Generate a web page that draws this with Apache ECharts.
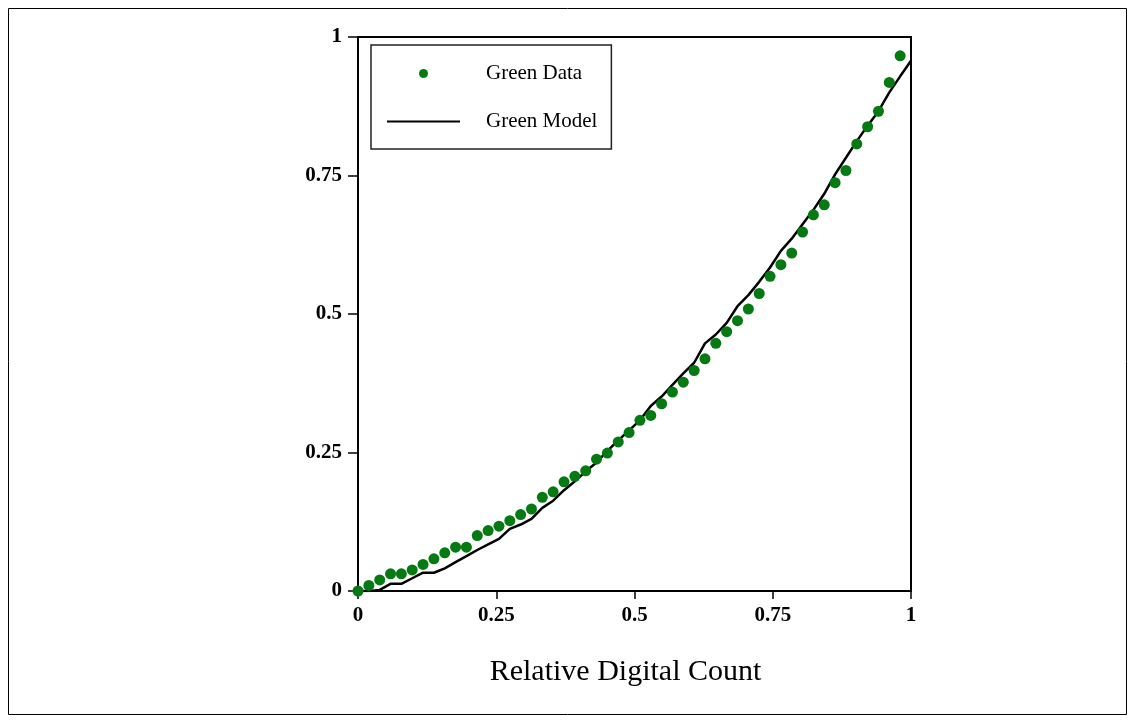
<!DOCTYPE html>
<html>
<head>
<meta charset="utf-8">
<title>Green channel</title>
<script src="https://cdn.jsdelivr.net/npm/echarts@6/dist/echarts.min.js"></script>
<style>
  html, body { margin: 0; padding: 0; background: #fff; }
  #main { width: 1135px; height: 723px; }
</style>
</head>
<body>
<div id="main"></div>
<script>
// digital counts (8 bit), shown as count / 255
const dataCounts = [0, 5, 10, 15, 20, 25, 30, 35, 40, 45, 50, 55, 60, 65, 70, 75, 80, 85, 90, 95,
  100, 105, 110, 115, 120, 125, 130, 135, 140, 145, 150, 155, 160, 165, 170, 175, 180, 185, 190, 195,
  200, 205, 210, 215, 220, 225, 230, 235, 240, 245, 250];
const greenData = [0, 0.01, 0.02, 0.031, 0.031, 0.038, 0.048, 0.058, 0.069, 0.079, 0.079, 0.1, 0.109,
  0.117, 0.127, 0.138, 0.148, 0.169, 0.179, 0.197, 0.207, 0.217, 0.238, 0.249, 0.269, 0.286, 0.308,
  0.317, 0.338, 0.359, 0.377, 0.398, 0.419, 0.447, 0.468, 0.488, 0.509, 0.537, 0.568, 0.589, 0.61,
  0.648, 0.679, 0.697, 0.737, 0.759, 0.807, 0.838, 0.866, 0.918, 0.966];

const modelCounts = [0, 5, 10, 15, 20, 25, 30, 35, 40, 45, 50, 55, 60, 65, 70, 75, 80, 85, 90, 95,
  100, 105, 110, 115, 120, 125, 130, 135, 140, 145, 150, 155, 160, 165, 170, 175, 180, 185, 190, 195,
  200, 205, 210, 215, 220, 225, 230, 235, 240, 245, 250, 255];
const greenModel = [0, 0, 0.002, 0.013, 0.013, 0.023, 0.033, 0.033, 0.041, 0.052, 0.063, 0.074, 0.084,
  0.094, 0.112, 0.12, 0.13, 0.15, 0.163, 0.182, 0.198, 0.216, 0.232, 0.253, 0.272, 0.29, 0.308,
  0.334, 0.351, 0.372, 0.393, 0.412, 0.447, 0.463, 0.484, 0.514, 0.534, 0.558, 0.584, 0.614, 0.636,
  0.662, 0.688, 0.717, 0.752, 0.782, 0.812, 0.84, 0.866, 0.9, 0.929, 0.957];

const xTicks = [0, 0.25, 0.5, 0.75, 1];
const yTicks = [0, 0.25, 0.5, 0.75, 1];

const serif = '"Liberation Serif", "DejaVu Serif", serif';

let chart = echarts.init(document.getElementById('main'));

let option = {
  backgroundColor: '#fff',
  animation: false,
  graphic: [{
    type: 'rect',
    shape: { x: 8.5, y: 8.5, width: 1118, height: 706 },
    style: { fill: 'none', stroke: '#000', lineWidth: 1 },
    silent: true
  }],
  grid: {
    left: 358, right: 224, top: 37, bottom: 132,
    show: true, borderColor: '#000', borderWidth: 2, backgroundColor: 'transparent'
  },
  legend: {
    orient: 'vertical',
    left: 371, top: 45,
    padding: [18, 14, 17, 15],
    itemWidth: 73, itemHeight: 9, itemGap: 27,
    borderColor: '#222', borderWidth: 1.5,
    textStyle: { fontFamily: serif, fontSize: 21, color: '#000', padding: [0, 0, 0, 21], lineHeight: 16 },
    data: [
      { name: 'Green Data', icon: 'circle' },
      // line only: hide the marker that the legend puts on a line series
      { name: 'Green Model', itemStyle: { color: 'rgba(0,0,0,0)', borderWidth: 0 } }
    ]
  },
  xAxis: {
    type: 'value', min: 0, max: 1, interval: 0.25,
    name: 'Relative Digital Count', nameLocation: 'middle', nameGap: 66,
    nameTextStyle: { fontFamily: serif, fontSize: 30, color: '#000', padding: [0, 18, 0, 0] },
    axisLine: { lineStyle: { color: '#000', width: 2 } },
    axisTick: { show: true, length: 8, lineStyle: { color: '#000', width: 1.5 } },
    axisLabel: {
      margin: 14, fontFamily: serif, fontSize: 21, fontWeight: 'bold', color: '#000',
      formatter: v => xTicks.includes(v) ? String(v) : ''
    },
    splitLine: { show: false }
  },
  yAxis: {
    type: 'value', min: 0, max: 1, interval: 0.25,
    axisLine: { show: true, lineStyle: { color: '#000', width: 2 } },
    axisTick: { show: true, length: 10, lineStyle: { color: '#000', width: 1.5 } },
    axisLabel: {
      margin: 16, fontFamily: serif, fontSize: 21, fontWeight: 'bold', color: '#000',
      formatter: v => yTicks.includes(v) ? String(v) : ''
    },
    splitLine: { show: false }
  },
  series: [
    {
      name: 'Green Model',
      type: 'line',
      symbol: 'none',
      z: 2,
      lineStyle: { color: '#000', width: 2.5 },
      itemStyle: { color: '#000' },
      data: modelCounts.map((c, i) => [c / 255, greenModel[i]])
    },
    {
      name: 'Green Data',
      type: 'scatter',
      symbol: 'circle',
      symbolSize: 11,
      z: 3,
      itemStyle: { color: '#067a12', opacity: 1 },
      data: dataCounts.map((c, i) => [c / 255, greenData[i]])
    }
  ]
};

chart.setOption(option);
</script>
</body>
</html>
